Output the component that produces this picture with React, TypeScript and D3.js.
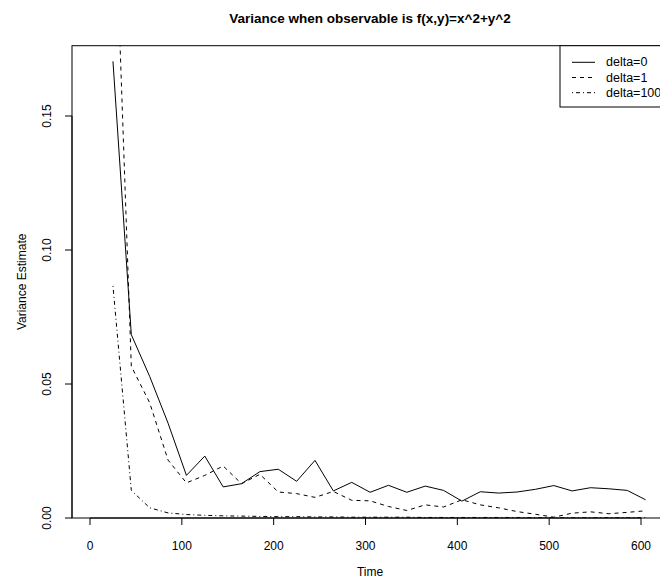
import React from "react";
import * as d3 from "d3";

// time points and variance estimates
const times = [25, 45, 65, 85, 105, 125, 145, 165, 185, 205, 225, 245, 265, 285, 305,
  325, 345, 365, 385, 405, 425, 445, 465, 485, 505, 525, 545, 565, 585, 605];
const delta0 = [0.1704, 0.0684, 0.0528, 0.0354, 0.0159, 0.0231, 0.0116, 0.0128, 0.0173, 0.0182,
  0.0137, 0.0215, 0.0101, 0.0133, 0.0096, 0.0122, 0.0096, 0.0119, 0.0103, 0.0063,
  0.0098, 0.0093, 0.0097, 0.0107, 0.0121, 0.0101, 0.0113, 0.0109, 0.0103, 0.0068];
const delta1 = [0.252, 0.0566, 0.043, 0.0216, 0.0131, 0.0159, 0.0194, 0.0128, 0.0163, 0.0097,
  0.0091, 0.0077, 0.0099, 0.0066, 0.0064, 0.0043, 0.0028, 0.0049, 0.0041, 0.0068,
  0.0049, 0.0038, 0.0024, 0.0014, 0.0003, 0.0018, 0.0023, 0.0016, 0.0021, 0.0027];
const delta100 = [0.0866, 0.0103, 0.0038, 0.0019, 0.0013, 0.001, 0.0008, 0.0007, 0.0006, 0.0005,
  0.0005, 0.0004, 0.0004, 0.0003, 0.0003, 0.0003, 0.0003, 0.0002, 0.0002, 0.0002,
  0.0002, 0.0002, 0.0002, 0.0001, 0.0001, 0.0001, 0.0001, 0.0001, 0.0001, 0.0001];

const seriesNames = ["delta=0", "delta=1", "delta=100"];
const xTicks = [0, 100, 200, 300, 400, 500, 600];
const yTicks = [0, 0.05, 0.1, 0.15];

const W = 660, H = 581;
const box = { left: 72, top: 45.7, right: 668, bottom: 518 };
const font = "'Liberation Sans', Arial, Helvetica, sans-serif";
const dashes = ["none", "4,4", "1,3,4,3"];

export default function App() {
  const x = d3.scaleLinear().domain([0, 600]).range([90, 641]);
  const y = d3.scaleLinear().domain([0, 0.15]).range([box.bottom, 116]);

  const series = [delta0, delta1, delta100];
  const line = d3.line<number>()
    .x((d, i) => x(times[i]))
    .y(d => y(d));

  return (
    <svg width={W} height={H} style={{ position: "absolute", left: 0, top: 0, background: "#fff" }}
      fontFamily={font}>
      <defs>
        <clipPath id="plotclip">
          <rect x={box.left} y={box.top} width={box.right - box.left} height={box.bottom - box.top} />
        </clipPath>
      </defs>

      <text x={370} y={23} textAnchor="middle" fontSize={13.5} fontWeight="bold">
        Variance when observable is f(x,y)=x^2+y^2
      </text>

      {/* data lines */}
      <g clipPath="url(#plotclip)">
        {series.map((s, k) => (
          <path key={k} d={line(s) || ""} fill="none" stroke="#000" strokeWidth={1}
            strokeDasharray={dashes[k]} />
        ))}
      </g>

      {/* plot box */}
      <rect x={box.left} y={box.top} width={box.right - box.left} height={box.bottom - box.top}
        fill="none" stroke="#000" strokeWidth={1} />

      {/* x axis */}
      <line x1={x(0)} x2={x(600)} y1={box.bottom} y2={box.bottom} stroke="#000" />
      {xTicks.map(t => (
        <g key={t}>
          <line x1={x(t)} x2={x(t)} y1={box.bottom} y2={box.bottom + 7} stroke="#000" />
          <text x={x(t)} y={550} textAnchor="middle" fontSize={12}>{t}</text>
        </g>
      ))}
      <text x={(box.left + box.right) / 2} y={576} textAnchor="middle" fontSize={12}>Time</text>

      {/* y axis */}
      <line x1={box.left} x2={box.left} y1={y(0)} y2={y(0.15)} stroke="#000" />
      {yTicks.map(t => (
        <g key={t}>
          <line x1={box.left - 7} x2={box.left} y1={y(t)} y2={y(t)} stroke="#000" />
          <text transform={`translate(51,${y(t)}) rotate(-90)`} textAnchor="middle" fontSize={12}>
            {t.toFixed(2)}
          </text>
        </g>
      ))}
      <text transform={`translate(26,${(box.top + box.bottom) / 2}) rotate(-90)`} textAnchor="middle"
        fontSize={12}>Variance Estimate</text>

      {/* legend */}
      <rect x={560} y={box.top} width={140} height={107 - box.top} fill="#fff" stroke="#000" />
      {seriesNames.map((n, k) => (
        <g key={n} transform={`translate(0,${62.3 + k * 15.2})`}>
          <line x1={572} x2={595} y1={0} y2={0} stroke="#000" strokeDasharray={dashes[k]} />
          <text x={606} y={4} fontSize={12.5}>{n}</text>
        </g>
      ))}
    </svg>
  );
}
